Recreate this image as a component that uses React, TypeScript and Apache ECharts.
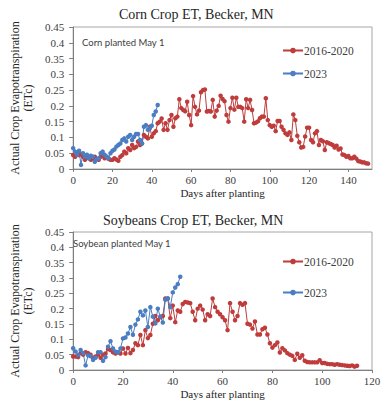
import React, { useEffect, useRef } from 'react';
import * as echarts from 'echarts';

// Corn, 2016-2020 average, day 0..150
const cornHist = [
  0.044, 0.039, 0.05, 0.044, 0.047, 0.039, 0.029, 0.039, 0.034, 0.029,
  0.034, 0.039, 0.032, 0.029, 0.039, 0.044, 0.034, 0.039, 0.032, 0.029,
  0.029, 0.034, 0.03, 0.026, 0.039, 0.044, 0.055, 0.05, 0.066, 0.06,
  0.076, 0.066, 0.07, 0.087, 0.076, 0.081, 0.108, 0.102, 0.097, 0.134,
  0.102, 0.113, 0.12, 0.145, 0.15, 0.16, 0.124, 0.145, 0.124, 0.155,
  0.171, 0.134, 0.161, 0.166, 0.221, 0.193, 0.187, 0.183, 0.213, 0.171,
  0.139, 0.231, 0.197, 0.173, 0.185, 0.243, 0.25, 0.252, 0.182, 0.184,
  0.182, 0.219, 0.166, 0.185, 0.2, 0.232, 0.222, 0.215, 0.171, 0.15,
  0.193, 0.226, 0.188, 0.226, 0.197, 0.197, 0.193, 0.15, 0.221, 0.193,
  0.219, 0.187, 0.145, 0.147, 0.151, 0.161, 0.166, 0.166, 0.224, 0.155,
  0.139, 0.134, 0.137, 0.12, 0.152, 0.152, 0.134, 0.124, 0.113, 0.108,
  0.116, 0.092, 0.173, 0.155, 0.105, 0.085, 0.068, 0.07, 0.103, 0.131,
  0.131, 0.092, 0.085, 0.113, 0.12, 0.076, 0.092, 0.088, 0.06, 0.085,
  0.082, 0.079, 0.076, 0.068, 0.074, 0.062, 0.065, 0.046, 0.044, 0.039,
  0.041, 0.034, 0.034, 0.039, 0.033, 0.025, 0.024, 0.021, 0.021, 0.018, 0.017,
];

// Corn, 2023, day 0..43
const corn2023 = [
  0.066, 0.055, 0.045, 0.058, 0.013, 0.05, 0.039, 0.045, 0.034, 0.042,
  0.039, 0.023, 0.031, 0.034, 0.05, 0.055, 0.045, 0.039, 0.034, 0.05,
  0.058, 0.062, 0.071, 0.076, 0.081, 0.092, 0.097, 0.087, 0.102, 0.108,
  0.092, 0.102, 0.111, 0.111, 0.092, 0.081, 0.134, 0.139, 0.124, 0.129,
  0.137, 0.171, 0.182, 0.203,
];

// Soybean, 2016-2020 average, day 0..114
const soyHist = [
  0.044, 0.044, 0.042, 0.055, 0.05, 0.058, 0.055, 0.05, 0.04, 0.044,
  0.05, 0.04, 0.05, 0.054, 0.068, 0.065, 0.058, 0.054, 0.058, 0.054,
  0.07, 0.054, 0.072, 0.055, 0.065, 0.087, 0.081, 0.114, 0.081, 0.13,
  0.104, 0.114, 0.151, 0.176, 0.162, 0.172, 0.176, 0.233, 0.233, 0.169,
  0.21, 0.156, 0.194, 0.19, 0.215, 0.222, 0.22, 0.218, 0.19, 0.162,
  0.2, 0.21, 0.197, 0.162, 0.182, 0.176, 0.233, 0.205, 0.19, 0.182,
  0.172, 0.162, 0.13, 0.218, 0.19, 0.162, 0.176, 0.218, 0.213, 0.218,
  0.151, 0.148, 0.135, 0.158, 0.116, 0.116, 0.133, 0.138, 0.116, 0.087,
  0.073, 0.081, 0.09, 0.057, 0.071, 0.064, 0.055, 0.05, 0.046, 0.033,
  0.053, 0.04, 0.048, 0.03, 0.026, 0.025, 0.025, 0.025, 0.025, 0.032,
  0.023, 0.023, 0.02, 0.019, 0.019, 0.017, 0.019, 0.017, 0.016, 0.015,
  0.014, 0.013, 0.015, 0.011, 0.014,
];

// Soybean, 2023, day 0..43
const soy2023 = [
  0.071, 0.06, 0.049, 0.065, 0.055, 0.015, 0.048, 0.045, 0.033, 0.04,
  0.058, 0.058, 0.03, 0.042, 0.076, 0.094, 0.07, 0.06, 0.058, 0.07,
  0.103, 0.106, 0.119, 0.14, 0.115, 0.148, 0.165, 0.19, 0.178, 0.194,
  0.14, 0.205, 0.174, 0.152, 0.2, 0.174, 0.155, 0.229, 0.233, 0.205,
  0.253, 0.269, 0.28, 0.304,
];

const seriesNames = ['2016-2020', '2023'];
const chartTitles = ['Corn Crop ET, Becker, MN', 'Soybeans Crop ET, Becker, MN'];
const notes = ['Corn planted May 1', 'Soybean planted May 1'];
const yName = 'Actual Crop Evapotranspiration\n(ETc)';
const xName = 'Days after planting';

const RED = '#BF3C3C';
const BLUE = '#4A7DC1';
const SERIF = "'Liberation Serif', 'Times New Roman', serif";
const SANS = "Lato, 'Noto Sans', sans-serif";

const toPairs = (arr: number[]) => arr.map((v, i) => [i, v]);

export default function App() {
  const ref = useRef<HTMLDivElement>(null);
  useEffect(() => {
    if (!ref.current) return;
    const chart = echarts.init(ref.current, null, { renderer: 'svg' });

    const axisText = { fontFamily: SERIF, fontSize: 11, color: '#404040' };
    const mkX = (grid: number, max: number) => ({
      type: 'value',
      gridIndex: grid,
      min: 0,
      max,
      interval: 20,
      name: xName,
      nameLocation: 'middle',
      nameGap: 18,
      nameTextStyle: { fontFamily: SERIF, fontSize: 11, color: '#262626' },
      axisLine: { show: true, lineStyle: { color: '#7f7f7f', width: 1 } },
      axisTick: { show: true, length: 3, lineStyle: { color: '#7f7f7f' } },
      axisLabel: { ...axisText, margin: 5, showMaxLabel: max % 20 === 0 },
      splitLine: { show: false },
    });
    const mkY = (grid: number) => ({
      type: 'value',
      gridIndex: grid,
      min: 0,
      max: 0.45,
      interval: 0.05,
      name: yName,
      nameLocation: 'middle',
      nameGap: 27,
      nameRotate: 90,
      nameTextStyle: { fontFamily: SERIF, fontSize: 12, color: '#262626', lineHeight: 13 },
      axisLine: { show: true, lineStyle: { color: '#7f7f7f', width: 1 } },
      axisTick: { show: true, length: 4, lineStyle: { color: '#7f7f7f' } },
      axisLabel: { ...axisText, margin: 9 },
      splitLine: { show: false },
    });
    const lineSeries = (name: string, data: number[], color: string, idx: number) => ({
      type: 'line',
      name,
      xAxisIndex: idx,
      yAxisIndex: idx,
      data: toPairs(data),
      symbol: 'circle',
      symbolSize: 4.5,
      showSymbol: true,
      lineStyle: { color, width: 1 },
      itemStyle: { color },
      emphasis: { disabled: true },
    });
    const legendBase = {
      orient: 'vertical',
      left: 277,
      itemWidth: 20,
      itemHeight: 7,
      data: seriesNames,
      textStyle: { fontFamily: SERIF, fontSize: 11.5, color: '#404040', padding: [0, 0, 0, -4] },
      selectedMode: false,
    };

    chart.setOption({
      animation: false,
      backgroundColor: '#ffffff',
      title: [
        { text: chartTitles[0], left: 119, top: 7, padding: 0, textStyle: { fontFamily: SERIF, fontSize: 14, fontWeight: 'normal', color: '#262626' } },
        { text: chartTitles[1], left: 103, top: 213, padding: 0, textStyle: { fontFamily: SERIF, fontSize: 14, fontWeight: 'normal', color: '#262626' } },
        { text: notes[0], left: 82, top: 37, padding: 0, textStyle: { fontFamily: SANS, fontSize: 9.5, fontWeight: 'normal', color: '#404040' } },
        { text: notes[1], left: 73, top: 238, padding: 0, textStyle: { fontFamily: SANS, fontSize: 9.5, fontWeight: 'normal', color: '#404040' } },
      ],
      legend: [
        { ...legendBase, top: 39.5, itemGap: 11 },
        { ...legendBase, top: 250.5, itemGap: 19 },
      ],
      grid: [
        { left: 69, right: 20, top: 27, height: 142, show: true, borderColor: '#a6a6a6', borderWidth: 1, containLabel: false },
        { left: 67, right: 20, top: 232, height: 140, show: true, borderColor: '#a6a6a6', borderWidth: 1, containLabel: false },
      ],
      xAxis: [mkX(0, 152), mkX(1, 120)],
      yAxis: [mkY(0), mkY(1)],
      series: [
        lineSeries(seriesNames[0], cornHist, RED, 0),
        lineSeries(seriesNames[1], corn2023, BLUE, 0),
        lineSeries(seriesNames[0], soyHist, RED, 1),
        lineSeries(seriesNames[1], soy2023, BLUE, 1),
      ],
    });
    return () => chart.dispose();
  }, []);
  return <div ref={ref} style={{ width: 392, height: 400, position: 'absolute', left: 0, top: 0 }} />;
}
